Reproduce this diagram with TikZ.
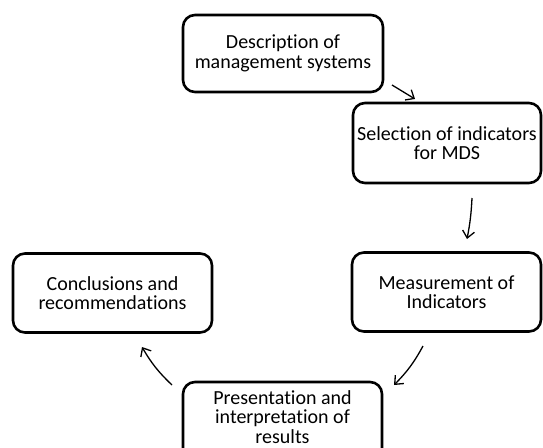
\documentclass[tikz,border=0pt]{standalone}
\usepackage{fontspec}
\setmainfont{Carlito}[Ligatures=NoCommon]
\usetikzlibrary{arrows.meta}
\begin{document}
\begin{tikzpicture}[x=1pt,y=-1pt,
  lbl/.style={align=center, inner sep=0pt, font=\fontsize{20}{19.5}\selectfont},
  box/.style={lbl, draw=black, line width=2.6pt, rounded corners=12pt, fill=white},
  conn/.style={draw=black, line width=1.3pt, -{Straight Barb[length=7pt,width=12pt,line width=1.3pt]}}]
\useasboundingbox (0,0) rectangle (543,447);
\node[box, minimum width=200pt, minimum height=77pt] (desc) at (283,53.5) {Description of\\management systems};
\node[box, minimum width=188pt, minimum height=80pt] (sel) at (447,143) {Selection of indicators\\for MDS};
\node[box, minimum width=189pt, minimum height=79pt] (meas) at (446.5,292) {Measurement of\\Indicators};
\node[box, minimum width=199pt, minimum height=79pt] (conc) at (112.5,293) {Conclusions and\\recommendations};
\node[box, minimum width=199pt, minimum height=82pt] (pres) at (282.5,423) {};
\node[lbl] (prestext) at (282.5,417) {Presentation and\\interpretation of\\results};
\coordinate (a1s) at (392,85);
\coordinate (a1e) at (415,99);
\coordinate (a2s) at (472,198);
\coordinate (a2e) at (467,239);
\coordinate (a3s) at (423,346);
\coordinate (a3e) at (394,385);
\coordinate (a4s) at (172,385);
\coordinate (a4e) at (142,347);
\draw[conn] (a1s) -- (a1e);
\draw[conn] (a2s) to[bend left=4] (a2e);
\draw[conn] (a3s) to[bend left=8] (a3e);
\draw[conn] (a4s) to[bend left=8] (a4e);
\end{tikzpicture}
\end{document}
